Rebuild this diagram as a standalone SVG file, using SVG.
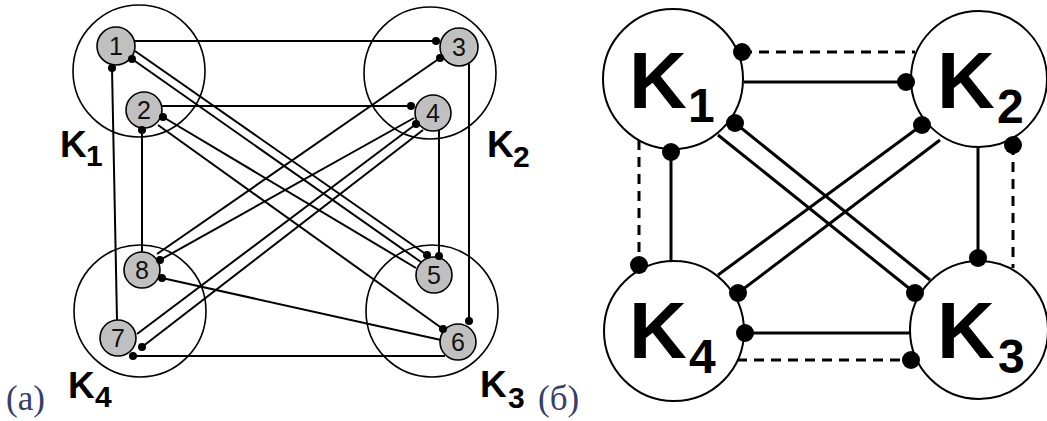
<svg xmlns="http://www.w3.org/2000/svg" width="1047" height="421" viewBox="0 0 1047 421">
<style>
.ln{stroke:#000;stroke-width:2;fill:none}
.lnb{stroke:#000;stroke-width:3;fill:none}
.dash{stroke-dasharray:10 7}
.clu{fill:none;stroke:#000;stroke-width:1.6}
.big{fill:#fff;stroke:#000;stroke-width:2}
.nd{fill:#c0c0c0;stroke:#000;stroke-width:1.6}
.num{font-family:"Liberation Sans",Arial,sans-serif;font-size:25px;fill:#111;text-anchor:middle}
.lab{font-family:"Liberation Sans",Arial,sans-serif;font-weight:bold;fill:#000}
.cap{font-family:"Liberation Serif","Times New Roman",serif;font-size:35px;fill:#34406a}
.d{fill:#000}
</style>
<rect width="1047" height="421" fill="#fff"/>

<!-- panel (a) cluster circles -->
<g id="a-K1"><circle class="clu" cx="139" cy="71" r="66"/><text class="lab" x="60" y="157" font-size="37">K</text><text class="lab" x="86" y="166" font-size="30">1</text></g>
<g id="a-K2"><circle class="clu" cx="430" cy="73" r="66"/><text class="lab" x="487" y="157" font-size="37">K</text><text class="lab" x="513" y="167" font-size="30">2</text></g>
<g id="a-K4"><circle class="clu" cx="140" cy="311" r="66"/><text class="lab" x="68" y="398" font-size="37">K</text><text class="lab" x="95" y="407" font-size="30">4</text></g>
<g id="a-K3"><circle class="clu" cx="432" cy="311" r="66"/><text class="lab" x="480" y="397" font-size="37">K</text><text class="lab" x="508" y="408" font-size="30">3</text></g>

<!-- panel (a) connectors -->
<g id="a-connectors">
<line class="ln" x1="134" y1="41" x2="436" y2="41"/>
<line class="ln" x1="112" y1="68" x2="117" y2="320"/>
<line class="ln" x1="142" y1="130" x2="142" y2="252"/>
<line class="ln" x1="162" y1="106" x2="411" y2="106"/>
<line class="ln" x1="469" y1="63" x2="469" y2="321"/>
<line class="ln" x1="439" y1="130" x2="439" y2="256"/>
<line class="ln" x1="135" y1="51" x2="427" y2="255"/>
<line class="ln" x1="132" y1="59" x2="421" y2="262"/>
<line class="ln" x1="163" y1="117" x2="416" y2="268"/>
<line class="ln" x1="158" y1="125" x2="443" y2="329"/>
<line class="ln" x1="440" y1="58" x2="157" y2="254"/>
<line class="ln" x1="414" y1="118" x2="160" y2="260"/>
<line class="ln" x1="416" y1="124" x2="137" y2="334"/>
<line class="ln" x1="423" y1="130" x2="142" y2="347"/>
<line class="ln" x1="162" y1="278" x2="441" y2="340"/>
<line class="ln" x1="133" y1="356" x2="445" y2="356"/>
</g>

<!-- panel (a) nodes -->
<g id="n1"><circle class="nd" cx="116" cy="46" r="19"/><text class="num" x="116" y="55">1</text></g>
<g id="n2"><circle class="nd" cx="144" cy="110" r="18"/><text class="num" x="144" y="119">2</text></g>
<g id="n3"><circle class="nd" cx="459" cy="47" r="19"/><text class="num" x="459" y="56">3</text></g>
<g id="n4"><circle class="nd" cx="433" cy="113" r="18"/><text class="num" x="433" y="122">4</text></g>
<g id="n5"><circle class="nd" cx="434" cy="275" r="18"/><text class="num" x="434" y="284">5</text></g>
<g id="n6"><circle class="nd" cx="458" cy="342" r="18"/><text class="num" x="458" y="351">6</text></g>
<g id="n7"><circle class="nd" cx="118" cy="338" r="18"/><text class="num" x="118" y="347">7</text></g>
<g id="n8"><circle class="nd" cx="142" cy="270" r="18"/><text class="num" x="142" y="279">8</text></g>

<!-- panel (a) terminals -->
<g id="a-dots">
<circle class="d" cx="112" cy="68" r="4"/>
<circle class="d" cx="132" cy="59" r="4"/>
<circle class="d" cx="163" cy="117" r="4"/>
<circle class="d" cx="142" cy="130" r="4"/>
<circle class="d" cx="436" cy="41" r="4"/>
<circle class="d" cx="440" cy="58" r="4"/>
<circle class="d" cx="411" cy="106" r="4"/>
<circle class="d" cx="416" cy="124" r="4"/>
<circle class="d" cx="427" cy="255" r="4"/>
<circle class="d" cx="439" cy="256" r="4"/>
<circle class="d" cx="469" cy="321" r="4"/>
<circle class="d" cx="443" cy="329" r="4"/>
<circle class="d" cx="142" cy="347" r="4"/>
<circle class="d" cx="133" cy="356" r="4"/>
<circle class="d" cx="160" cy="260" r="4"/>
<circle class="d" cx="162" cy="278" r="4"/>
</g>

<text class="cap" x="6" y="410">(a)</text>
<text class="cap" x="538" y="410">(б)</text>

<!-- panel (б) connectors -->
<g id="b-connectors">
<line class="lnb dash" x1="742" y1="52" x2="915" y2="52"/>
<line class="lnb" x1="744" y1="82" x2="906" y2="82"/>
<line class="lnb dash" x1="639" y1="140" x2="639" y2="265"/>
<line class="lnb" x1="671" y1="152" x2="671" y2="262"/>
<line class="lnb" x1="978" y1="148" x2="978" y2="258"/>
<line class="lnb dash" x1="1013" y1="145" x2="1013" y2="268"/>
<line class="lnb" x1="745" y1="333" x2="910" y2="333"/>
<line class="lnb dash" x1="737" y1="360" x2="911" y2="360"/>
<line class="lnb" x1="735" y1="123" x2="930" y2="280"/>
<line class="lnb" x1="718" y1="135" x2="915" y2="293"/>
<line class="lnb" x1="922" y1="125" x2="718" y2="275"/>
<line class="lnb" x1="940" y1="140" x2="738" y2="293"/>
</g>

<!-- panel (б) nodes -->
<g id="b-K1"><circle class="big" cx="673" cy="79" r="70"/><text class="lab" x="629" y="108" font-size="80">K</text><text class="lab" x="688" y="122" font-size="48">1</text></g>
<g id="b-K2"><circle class="big" cx="979" cy="79" r="68"/><text class="lab" x="937" y="108" font-size="80">K</text><text class="lab" x="997" y="123" font-size="48">2</text></g>
<g id="b-K4"><circle class="big" cx="674" cy="331" r="70"/><text class="lab" x="629" y="358" font-size="80">K</text><text class="lab" x="689" y="373" font-size="48">4</text></g>
<g id="b-K3"><circle class="big" cx="979" cy="330" r="69"/><text class="lab" x="937" y="358" font-size="80">K</text><text class="lab" x="998" y="373" font-size="48">3</text></g>

<!-- panel (б) terminals -->
<g id="b-dots">
<circle class="d" cx="742" cy="52" r="9"/>
<circle class="d" cx="906" cy="82" r="9"/>
<circle class="d" cx="639" cy="265" r="9"/>
<circle class="d" cx="671" cy="152" r="9"/>
<circle class="d" cx="978" cy="258" r="9"/>
<circle class="d" cx="1013" cy="145" r="9"/>
<circle class="d" cx="745" cy="333" r="9"/>
<circle class="d" cx="911" cy="360" r="9"/>
<circle class="d" cx="735" cy="123" r="9"/>
<circle class="d" cx="915" cy="293" r="9"/>
<circle class="d" cx="922" cy="125" r="9"/>
<circle class="d" cx="738" cy="293" r="9"/>
</g>
</svg>
